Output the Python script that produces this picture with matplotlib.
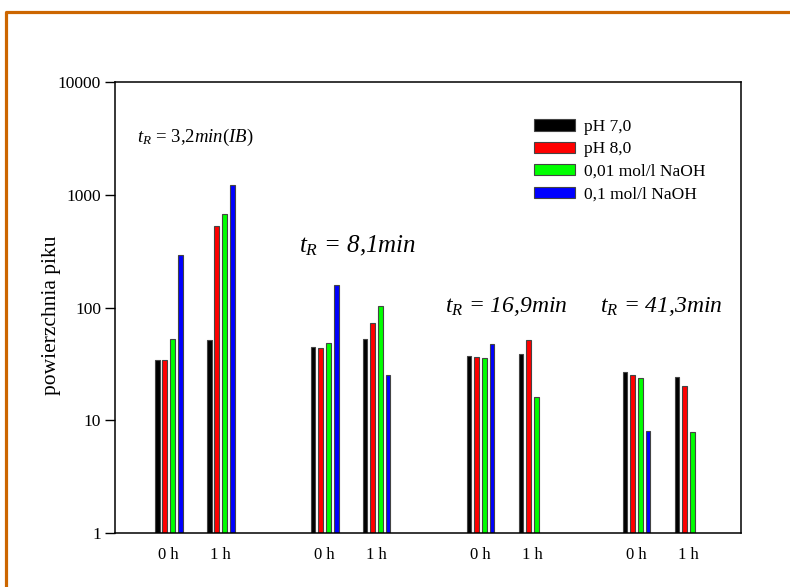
import numpy as np
import matplotlib
matplotlib.use("Agg")
import matplotlib.pyplot as plt
from matplotlib.lines import Line2D
from matplotlib.patches import Patch

plt.rcParams['font.family'] = ['Liberation Serif', 'DejaVu Serif']
plt.rcParams['mathtext.fontset'] = 'custom'
plt.rcParams['mathtext.it'] = 'Liberation Serif:italic'
plt.rcParams['mathtext.rm'] = 'Liberation Serif'

# data
tick_labels = ["0 h", "1 h", "0 h", "1 h", "0 h", "1 h", "0 h", "1 h"]
series = ["pH 7,0", "pH 8,0", "0,01 mol/l NaOH", "0,1 mol/l NaOH"]
ph70 = [34.2, 51.2, 44.5, 52.2, 37.1, 38.5, 26.6, 24.2]
ph80 = [34.0, 528, 43.8, 72.4, 36.2, 51.2, 25.2, 20.2]
naoh001 = [52.6, 675, 48.2, 102.5, 35.6, 16.0, 23.8, 7.9]
naoh01 = [292, 1228, 159, 25.2, 47.1, np.nan, 7.98, np.nan]
colors = ["#000000", "#ff0000", "#00ff00", "#0000ff"]
labels_tr = [r"$t_R$ = 3,2$\mathit{min(IB)}$", r"$t_R$ = 8,1min",
             r"$t_R$ = 16,9min", r"$t_R$ = 41,3min"]

W, H = 790, 587
fig = plt.figure(figsize=(W / 100, H / 100), dpi=100)
ax = fig.add_axes([115 / W, 1 - 533 / H, (741 - 115) / W, (533 - 82) / H])

pos = np.array([0, 1, 3, 4, 6, 7, 9, 10], dtype=float)
bw = 0.095
pitch = 0.1475
for i, (vals, c, lab) in enumerate(zip([ph70, ph80, naoh001, naoh01], colors, series)):
    x = pos + (i - 1.5) * pitch
    v = np.array(vals, dtype=float)
    m = ~np.isnan(v)
    ax.bar(x[m], v[m], width=bw, color=c, edgecolor="#444444", linewidth=0.8,
           label=lab, bottom=0)

ax.set_yscale("log")
ax.set_ylim(1, 10000)
ax.set_xlim(-1.03, 11.01)
ax.set_yticks([1, 10, 100, 1000, 10000])
ax.set_yticklabels(["1", "10", "100", "1000", "10000"])
ax.yaxis.set_minor_locator(matplotlib.ticker.NullLocator())
ax.tick_params(axis='y', direction='out', length=7, width=1, labelsize=12.5, pad=3)
ax.set_xticks(pos)
ax.set_xticklabels(tick_labels)
ax.tick_params(axis='x', length=0, labelsize=12, pad=10)
for s in ax.spines.values():
    s.set_linewidth(1.1)
ax.set_ylabel("powierzchnia piku", fontsize=15.5)
ax.yaxis.set_label_coords(-0.087, 0.483)

ax.text(0.035, 0.876, labels_tr[0], transform=ax.transAxes, fontsize=13.5, va='center')
ax.text(0.294, 0.636, labels_tr[1], transform=ax.transAxes, fontsize=18, style='italic', va='center')
ax.text(0.527, 0.503, labels_tr[2], transform=ax.transAxes, fontsize=17, style='italic', va='center')
ax.text(0.775, 0.503, labels_tr[3], transform=ax.transAxes, fontsize=17, style='italic', va='center')

handles = [Patch(facecolor=c, edgecolor="#444444", linewidth=0.8) for c in colors]
ax.legend(handles, series, loc='upper left', bbox_to_anchor=((534 - 115) / 626, 1 - (119 - 82) / 451),
          frameon=False, fontsize=12.5, handlelength=2.35, handleheight=0.62,
          handletextpad=0.55, labelspacing=0.37, borderaxespad=0, borderpad=0)

# orange frame
frame = Line2D([5.5 / W, 5.5 / W, 1.0], [0.0, 1 - 11.5 / H, 1 - 11.5 / H],
               transform=fig.transFigure, color="#cc6600", linewidth=2.3)
fig.add_artist(frame)

fig.savefig("out.png", dpi=100)
